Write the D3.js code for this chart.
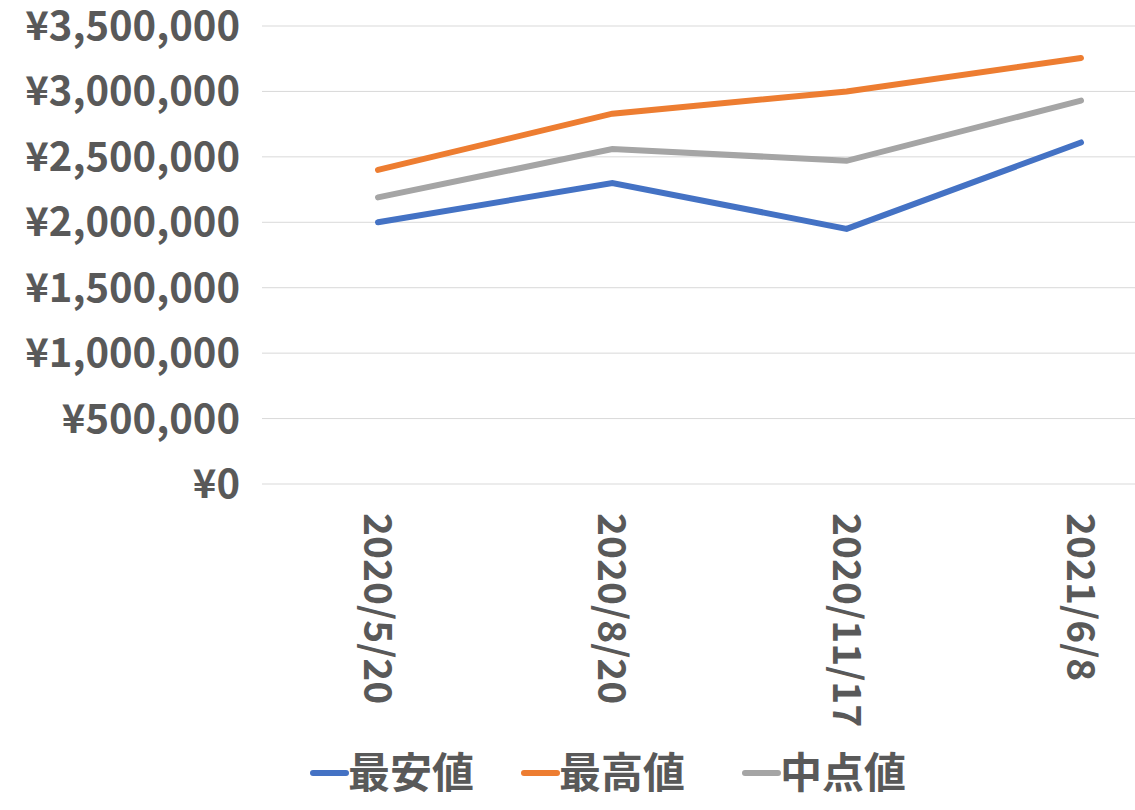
<!DOCTYPE html>
<html><head><meta charset="utf-8">
<script src="https://cdn.jsdelivr.net/npm/d3@7"></script>
<style>body{margin:0;background:#fff}</style>
</head><body>
<svg id="c" width="1135" height="810"></svg>
<script>
var dates = ["2020/5/20", "2020/8/20", "2020/11/17", "2021/6/8"];
var seriesNames = ["最安値", "最高値", "中点値"];
var minVals = [2000000, 2300000, 1950000, 2610000];
var maxVals = [2400000, 2830000, 3000000, 3255000];
var midVals = [2190000, 2560000, 2470000, 2930000];
var colors = ["#4472C4", "#ED7D31", "#A5A5A5"];
var yTicks = [0, 500000, 1000000, 1500000, 2000000, 2500000, 3000000, 3500000];

var svg = d3.select("#c");
var font = "'Noto Sans CJK JP', 'Noto Sans', sans-serif";
var x = d3.scalePoint().domain(dates).range([378, 1081]);
var y = d3.scaleLinear().domain([0, 3500000]).range([484, 26]);

svg.append("g").selectAll("line").data(yTicks).enter().append("line")
  .attr("x1", 262).attr("x2", 1135)
  .attr("y1", function(d) { return y(d); }).attr("y2", function(d) { return y(d); })
  .attr("stroke", "#d9d9d9").attr("stroke-width", 1);

svg.append("g").selectAll("text").data(yTicks).enter().append("text")
  .attr("x", 240).attr("y", function(d) { return y(d) + 14; })
  .attr("text-anchor", "end").attr("font-family", font).attr("font-weight", "bold")
  .attr("font-size", 40).attr("fill", "#595959")
  .text(function(d) { return "¥" + d3.format(",")(d); });

svg.append("g").selectAll("text").data(dates).enter().append("text")
  .attr("transform", function(d) { return "translate(" + (x(d) - 14) + ",513) rotate(90)"; })
  .attr("text-anchor", "start").attr("font-family", font).attr("font-weight", "bold")
  .attr("font-size", 39).attr("fill", "#595959")
  .text(function(d) { return d; });

var all = [minVals, maxVals, midVals];
var line = d3.line().x(function(d, i) { return x(dates[i]); }).y(function(d) { return y(d); });
all.forEach(function(vals, k) {
  svg.append("path").datum(vals).attr("d", line).attr("fill", "none")
    .attr("stroke", colors[k]).attr("stroke-width", 6).attr("stroke-linecap", "round");
});

var lx = [313, 524, 745];
seriesNames.forEach(function(n, k) {
  svg.append("line").attr("x1", lx[k]).attr("x2", lx[k] + 33).attr("y1", 773).attr("y2", 773)
    .attr("stroke", colors[k]).attr("stroke-width", 6).attr("stroke-linecap", "round");
  svg.append("text").attr("x", lx[k] + 35).attr("y", 788)
    .attr("font-family", font).attr("font-weight", "bold").attr("font-size", 42)
    .attr("fill", "#595959").text(n);
});
</script>
</body></html>
